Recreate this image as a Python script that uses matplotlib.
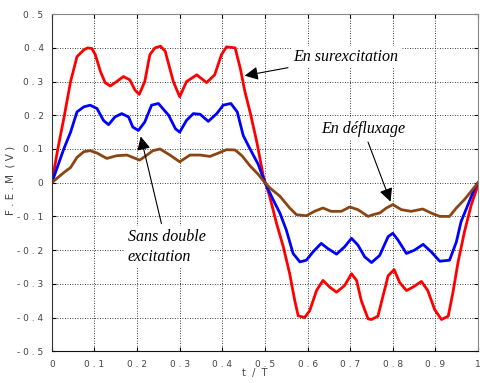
import matplotlib.pyplot as plt

# curves (t/T, F.E.M in V)
t_red = [0, 0.014, 0.028, 0.044, 0.059, 0.075, 0.084, 0.094, 0.102, 0.114, 0.125, 0.137, 0.152,
         0.168, 0.183, 0.195, 0.205, 0.218, 0.23, 0.242, 0.255, 0.266, 0.285, 0.30, 0.316, 0.34,
         0.363, 0.382, 0.398, 0.41, 0.43, 0.442, 0.453, 0.465, 0.481, 0.496, 0.511, 0.527,
         0.543, 0.558, 0.57, 0.578, 0.593, 0.605, 0.621, 0.636, 0.652, 0.668, 0.687, 0.703,
         0.715, 0.726, 0.742, 0.75, 0.765, 0.777, 0.789, 0.803, 0.816, 0.832, 0.847, 0.867,
         0.882, 0.898, 0.914, 0.93, 0.941, 0.953, 0.968, 0.984, 1.0]
v_red = [0, 0.10, 0.19, 0.30, 0.374, 0.394, 0.40, 0.398, 0.38, 0.33, 0.297, 0.287, 0.30,
         0.315, 0.305, 0.275, 0.262, 0.30, 0.38, 0.40, 0.405, 0.39, 0.30, 0.255, 0.30, 0.32,
         0.297, 0.32, 0.38, 0.403, 0.40, 0.34, 0.27, 0.21, 0.12, 0.02, -0.04, -0.12, -0.19,
         -0.27, -0.35, -0.395, -0.40, -0.38, -0.32, -0.29, -0.31, -0.325, -0.305, -0.27,
         -0.29, -0.35, -0.404, -0.406, -0.396, -0.336, -0.276, -0.258, -0.296, -0.32, -0.31,
         -0.293, -0.32, -0.376, -0.406, -0.396, -0.326, -0.236, -0.146, -0.066, -0.006]

t_blue = [0, 0.028, 0.044, 0.059, 0.075, 0.09, 0.106, 0.121, 0.133, 0.148, 0.164, 0.18, 0.19,
          0.203, 0.218, 0.234, 0.25, 0.274, 0.29, 0.30, 0.316, 0.332, 0.348, 0.367, 0.387,
          0.402, 0.42, 0.435, 0.449, 0.465, 0.484, 0.5, 0.519, 0.535, 0.55, 0.566, 0.582,
          0.597, 0.613, 0.632, 0.647, 0.668, 0.687, 0.703, 0.718, 0.734, 0.75, 0.769, 0.789,
          0.8, 0.812, 0.832, 0.851, 0.871, 0.89, 0.91, 0.933, 0.949, 0.96, 0.976, 0.992, 1.0]
v_blue = [0, 0.10, 0.15, 0.21, 0.225, 0.23, 0.22, 0.185, 0.172, 0.195, 0.205, 0.195, 0.165,
          0.155, 0.18, 0.23, 0.235, 0.20, 0.16, 0.15, 0.185, 0.205, 0.203, 0.182, 0.205,
          0.23, 0.235, 0.21, 0.14, 0.10, 0.055, 0, -0.05, -0.09, -0.14, -0.21, -0.235,
          -0.23, -0.205, -0.18, -0.195, -0.212, -0.19, -0.165, -0.185, -0.22, -0.237, -0.216,
          -0.16, -0.15, -0.17, -0.21, -0.2, -0.183, -0.205, -0.233, -0.23, -0.176, -0.116,
          -0.066, -0.016, 0]

t_brown = [0, 0.028, 0.044, 0.059, 0.075, 0.09, 0.106, 0.129, 0.152, 0.176, 0.19, 0.206,
           0.221, 0.237, 0.254, 0.277, 0.30, 0.324, 0.348, 0.371, 0.395, 0.41, 0.43, 0.446,
           0.465, 0.484, 0.5, 0.511, 0.535, 0.558, 0.574, 0.597, 0.616, 0.636, 0.655, 0.679,
           0.699, 0.718, 0.742, 0.753, 0.769, 0.785, 0.8, 0.82, 0.843, 0.87, 0.89, 0.91,
           0.933, 0.949, 0.968, 0.984, 1.0]
v_brown = [0, 0.03, 0.045, 0.075, 0.092, 0.095, 0.088, 0.072, 0.08, 0.082, 0.075, 0.067,
           0.08, 0.095, 0.10, 0.082, 0.062, 0.082, 0.082, 0.078, 0.09, 0.098, 0.097, 0.08,
           0.05, 0.025, 0, -0.015, -0.04, -0.075, -0.095, -0.098, -0.085, -0.075, -0.085,
           -0.085, -0.072, -0.08, -0.10, -0.095, -0.09, -0.075, -0.065, -0.08, -0.085, -0.078,
           -0.09, -0.1, -0.1, -0.075, -0.05, -0.025, 0]

xticks = [0, 0.1, 0.2, 0.3, 0.4, 0.5, 0.6, 0.7, 0.8, 0.9, 1.0]
yticks = [-0.5, -0.4, -0.3, -0.2, -0.1, 0, 0.1, 0.2, 0.3, 0.4, 0.5]


def spaced(v):
    # labels in the reference are written with spaces between the characters
    if v == 0:
        return '0'
    if v == 1:
        return '1'
    return ' '.join(f'{v:g}')


fig = plt.figure(figsize=(4.8, 3.83), dpi=100)
ax = fig.add_axes([0.108, 0.083, 0.888, 0.88])

ax.plot(t_red, v_red, color='#ff0000', lw=2.0, solid_joinstyle='round')
ax.plot(t_blue, v_blue, color='#0000ff', lw=2.0, solid_joinstyle='round')
ax.plot(t_brown, v_brown, color='#8b4513', lw=2.0, solid_joinstyle='round')

ax.set_xlim(0, 1)
ax.set_ylim(-0.5, 0.5)
ax.set_xticks(xticks)
ax.set_yticks(yticks)
ax.set_xticklabels([spaced(v) for v in xticks])
ax.set_yticklabels([spaced(v) for v in yticks])
ax.tick_params(direction='in', length=3, labelsize=6.5, labelcolor='#444444',
               top=True, right=True, pad=6)
ax.grid(True, color='black', linestyle=(0, (1, 2)), linewidth=0.6)

for side in ['top', 'right']:
    ax.spines[side].set_color('#888888')
ax.spines['left'].set_color('#333333')
ax.spines['bottom'].set_color('#111111')

fig.text(0.022, 0.53, 'F . E . M  ( V )', rotation=90, ha='center', va='center',
         fontsize=7.5, color='#444444')
fig.text(0.53, 0.013, 't  /  T', ha='center', va='bottom', fontsize=7, color='#444444')

font = dict(family='Liberation Serif', style='italic', fontsize=11.5)
box = dict(facecolor='white', edgecolor='none', pad=2)
arrow = dict(arrowstyle='-|>', color='black', lw=0.8, mutation_scale=20)

ax.annotate('En surexcitation', xy=(0.446, 0.316), xytext=(0.69, 0.373),
            ha='center', va='center', bbox=box, arrowprops=arrow, **font)
ax.annotate('En défluxage', xy=(0.797, -0.064), xytext=(0.73, 0.16),
            ha='center', va='center', bbox=box, arrowprops=arrow, **font)
ax.annotate('Sans double\nexcitation', xy=(0.207, 0.145), xytext=(0.27, -0.19),
            ha='center', va='center', multialignment='left', linespacing=1.3,
            bbox=box, arrowprops=arrow, **font)

fig.savefig('out.png', dpi=100)
